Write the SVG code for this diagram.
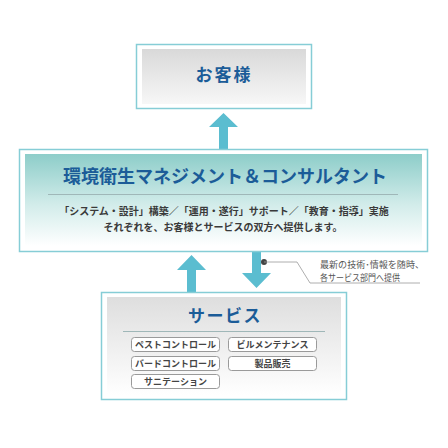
<svg xmlns="http://www.w3.org/2000/svg" width="448" height="448" viewBox="0 0 448 448">
<defs>
<linearGradient id="gGray" x1="0" y1="0" x2="0" y2="1">
<stop offset="0" stop-color="#d9d9d9"/>
<stop offset="1" stop-color="#f7f7f7"/>
</linearGradient>
<linearGradient id="gTeal" x1="0" y1="0" x2="0" y2="1">
<stop offset="0" stop-color="#8dcdc9"/>
<stop offset="0.55" stop-color="#d2ecea"/>
<stop offset="1" stop-color="#ffffff"/>
</linearGradient>
<linearGradient id="gGray2" x1="0" y1="0" x2="0" y2="1">
<stop offset="0" stop-color="#dedede"/>
<stop offset="1" stop-color="#ffffff"/>
</linearGradient>
</defs>
<style>
.outer{fill:#ffffff;stroke:#86cdd6;stroke-width:1.5}
.title{font-family:"Noto Sans CJK JP","Noto Sans",sans-serif;font-weight:bold;fill:#1b5c98;text-anchor:middle}
.body{font-family:"Noto Sans CJK JP","Noto Sans",sans-serif;font-weight:bold;fill:#3a3a3a;text-anchor:middle}
.note{font-family:"Noto Sans CJK JP","Noto Sans",sans-serif;fill:#555555;font-size:9px}
.div{stroke:#9fb7b8;stroke-width:1}
.btn{fill:#ffffff;stroke:#9a9a9a;stroke-width:1}
.btxt{font-family:"Noto Sans CJK JP","Noto Sans",sans-serif;font-weight:bold;fill:#444444;font-size:9px;text-anchor:middle}
.arrow{fill:#5bbdd0}
</style>
<g id="connectors">
<polygon class="arrow" points="219,150 228,150 228,127 238,127 223.5,113 209,127 219,127"/>
<polygon class="arrow" points="187,293 196,293 196,270 206,270 191.5,255 177,270 187,270"/>
<polygon class="arrow" points="252,251 261,251 261,273 271,273 256.5,288 242,273 252,273"/>
</g>
<g id="customer">
<rect class="outer" x="136.5" y="44.5" width="175" height="64"/>
<rect x="142" y="49" width="164" height="55" fill="url(#gGray)"/>
<text class="title" x="224" y="81" font-size="17" letter-spacing="2">お客様</text>
</g>
<g id="consulting">
<rect class="outer" x="19.5" y="149.5" width="408" height="102"/>
<rect x="25" y="154" width="397" height="92" fill="url(#gTeal)"/>
<text class="title" x="225" y="183" font-size="18">環境衛生マネジメント＆コンサルタント</text>
<line class="div" x1="48" y1="194.5" x2="398" y2="194.5"/>
<text class="body" x="224" y="215" font-size="10">「システム・設計」構築／「運用・遂行」サポート／「教育・指導」実施</text>
<text class="body" x="223" y="231" font-size="10">それぞれを、お客様とサービスの双方へ提供します。</text>
</g>
<g id="note">
<circle cx="264" cy="262" r="3" fill="#444444"/>
<polyline points="264,262 297,262 310,283 420,283" fill="none" stroke="#999999" stroke-width="0.8"/>
<text class="note" x="320" y="268" textLength="104" lengthAdjust="spacingAndGlyphs">最新の技術･情報を随時、</text>
<text class="note" x="320" y="281" textLength="80" lengthAdjust="spacingAndGlyphs">各サービス部門へ提供</text>
</g>
<g id="service">
<rect class="outer" x="101.5" y="292.5" width="245" height="107"/>
<rect x="107" y="297" width="234" height="98" fill="url(#gGray2)"/>
<text class="title" x="225" y="322" font-size="17" letter-spacing="1.5">サービス</text>
<line class="div" x1="123" y1="331.5" x2="325" y2="331.5"/>
<rect class="btn" x="131.5" y="337.5" width="88" height="14" rx="3"/>
<text class="btxt" x="175.5" y="348">ペストコントロール</text>
<rect class="btn" x="228.5" y="337.5" width="88" height="14" rx="3"/>
<text class="btxt" x="272.5" y="348">ビルメンテナンス</text>
<rect class="btn" x="131.5" y="356.5" width="88" height="14" rx="3"/>
<text class="btxt" x="175.5" y="367">バードコントロール</text>
<rect class="btn" x="228.5" y="356.5" width="88" height="14" rx="3"/>
<text class="btxt" x="272.5" y="367">製品販売</text>
<rect class="btn" x="131.5" y="374.5" width="88" height="14" rx="3"/>
<text class="btxt" x="175.5" y="385">サニテーション</text>
</g>
</svg>
